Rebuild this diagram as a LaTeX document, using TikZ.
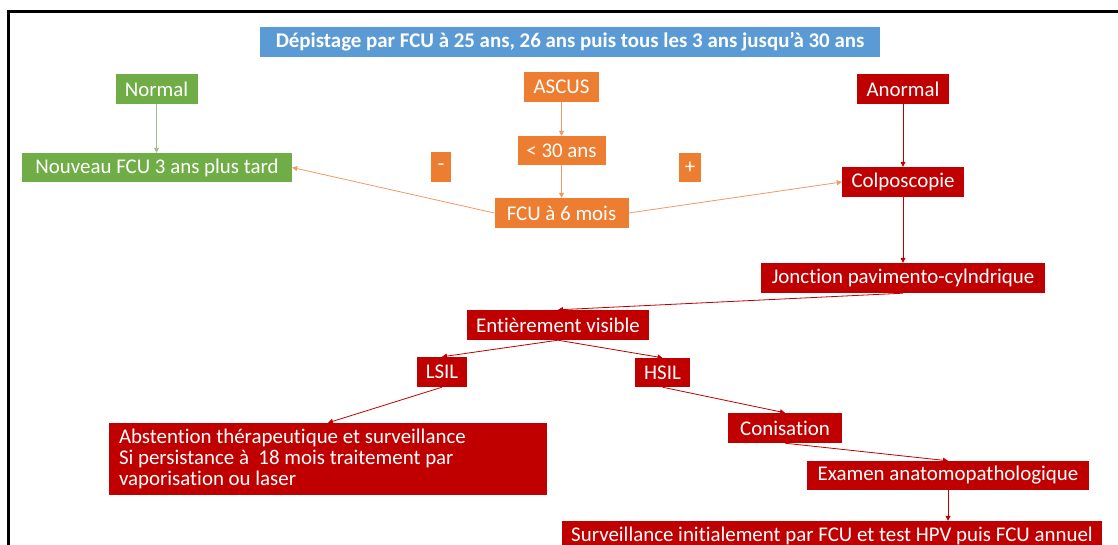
\documentclass[tikz,border=0pt]{standalone}
\usepackage{fontspec}
\setmainfont{Carlito}[Ligatures=NoCommon]
\usetikzlibrary{arrows.meta}
\definecolor{cblue}{HTML}{5B9BD5}
\definecolor{cgreen}{HTML}{70AD47}
\definecolor{corange}{HTML}{ED7D31}
\definecolor{cred}{HTML}{C00000}
\definecolor{garrowc}{HTML}{9DBF8A}
\definecolor{oarrowc}{HTML}{F09A60}
\tikzset{
  box/.style={rectangle, inner sep=0pt, text=white, font=\fontsize{20.9}{24}\selectfont},
  bluebox/.style={box, fill=cblue, font=\fontsize{20.9}{24}\selectfont\bfseries},
  greenbox/.style={box, fill=cgreen},
  orangebox/.style={box, fill=corange},
  redbox/.style={box, fill=cred},
  conn/.style={line width=0.8pt, -{Triangle[length=5pt,width=5pt]}},
  gconn/.style={conn, draw=garrowc},
  oconn/.style={conn, draw=oarrowc},
  rconn/.style={conn, draw=cred},
}
\begin{document}
\begin{tikzpicture}[x=1pt,y=-1pt]
\useasboundingbox (0,0) rectangle (1118,545);
\draw[line width=3pt] (1130,12) -- (8.5,12) -- (8.5,560);

\node[bluebox, minimum width=620pt, minimum height=30pt] (title) at (570,42) {Dépistage par FCU à 25 ans, 26 ans puis tous les 3 ans jusqu’à 30 ans};

\node[greenbox, minimum width=82pt, minimum height=30pt] (normal) at (156.5,89) {Normal};
\node[greenbox, minimum width=270pt, minimum height=29pt] (nouveau) at (157,167.5) {Nouveau FCU 3 ans plus tard};

\node[orangebox, minimum width=75pt, minimum height=30pt] (ascus) at (561.5,87) {ASCUS};
\node[orangebox, minimum width=88pt, minimum height=29pt] (lt30) at (561.5,150.5) {< 30 ans};
\node[orangebox, minimum width=134pt, minimum height=30pt] (fcu6) at (561.5,213) {FCU à 6 mois};
\node[orangebox, minimum width=20pt, minimum height=30pt] (minus) at (441,167) {-};
\node[orangebox, minimum width=22pt, minimum height=29pt] (plus) at (690,167.5) {+};

\node[redbox, minimum width=92pt, minimum height=30pt] (anormal) at (903,89) {Anormal};
\node[redbox, minimum width=122pt, minimum height=30pt] (colpo) at (903,182) {Colposcopie};
\node[redbox, minimum width=284pt, minimum height=30pt] (jonction) at (903,278) {Jonction pavimento-cylndrique};
\node[redbox, minimum width=182pt, minimum height=30pt] (entier) at (558,325) {Entièrement visible};
\node[redbox, minimum width=50pt, minimum height=30pt] (lsil) at (442,372) {LSIL};
\node[redbox, minimum width=55pt, minimum height=29pt] (hsil) at (662.5,372.5) {HSIL};
\node[redbox, minimum width=438pt, minimum height=72pt, text width=418pt, align=flush left, font=\fontsize{20.9}{21}\selectfont] (abst) at (328,459) {Abstention thérapeutique et surveillance\\Si persistance à~ 18 mois traitement par\\vaporisation ou laser};
\node[redbox, minimum width=114pt, minimum height=30pt] (conis) at (785,428) {Conisation};
\node[redbox, minimum width=282pt, minimum height=29pt] (examen) at (948,475.5) {Examen anatomopathologique};
\node[redbox, minimum width=540pt, minimum height=30pt] (surv) at (832,536) {Surveillance initialement par FCU et test HPV puis FCU annuel};

\draw[gconn] (normal.south) -- (normal.south |- nouveau.north);

\draw[oconn] (ascus.south) -- (lt30.north);
\draw[oconn] (lt30.south) -- (fcu6.north);
\draw[oconn] (fcu6.west) -- (nouveau.east);
\draw[oconn] (fcu6.east) -- (colpo.west);

\draw[rconn] (anormal.south) -- (colpo.north);
\draw[rconn] (colpo.south) -- (jonction.north);
\draw[rconn] (jonction.south) -- (entier.north);
\draw[rconn] (entier.south) -- (lsil.north);
\draw[rconn] (entier.south) -- (hsil.north);
\draw[rconn] (lsil.south) -- (abst.north);
\draw[rconn] (hsil.south) -- (conis.north);
\draw[rconn] (conis.south) -- (examen.north);
\draw[rconn] (examen.south) -- (examen.south |- surv.north);
\end{tikzpicture}
\end{document}
